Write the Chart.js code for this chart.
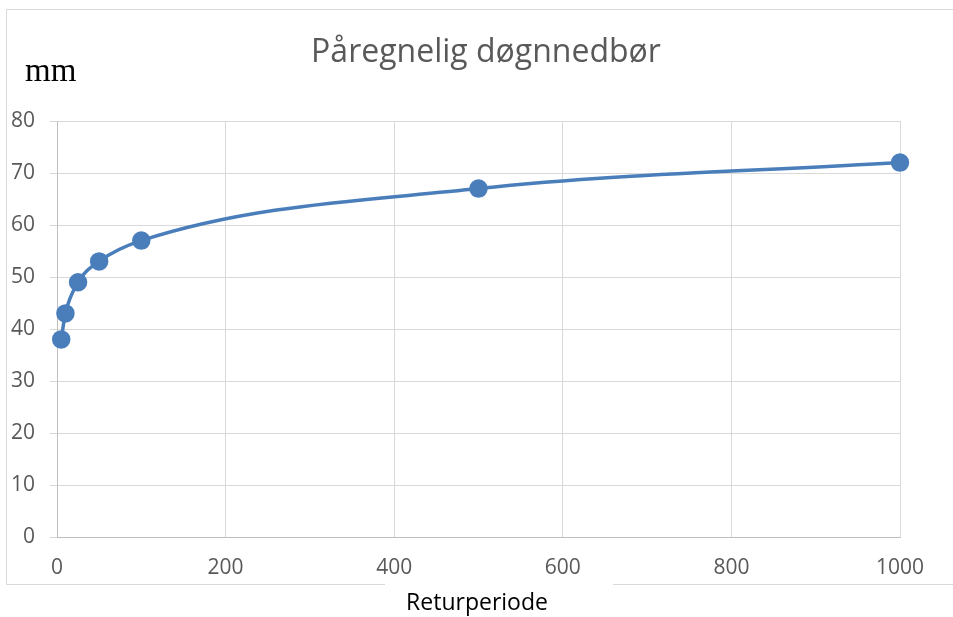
<!DOCTYPE html>
<html>
<head>
<meta charset="utf-8">
<script src="https://cdn.jsdelivr.net/npm/chart.js@4/dist/chart.umd.min.js"></script>
<style>
  html, body { margin: 0; padding: 0; background: #fff; }
  #wrap { width: 953px; height: 617px; position: relative; }
</style>
</head>
<body>
<div id="wrap"><canvas id="chart"></canvas></div>
<script>
  // returperiode (år) og nedbør (mm)
  const returnPeriods = [5, 10, 25, 50, 100, 500, 1000];
  const rainfall = [38, 43, 49, 53, 57, 67, 72];
  const chartTitle = 'Påregnelig døgnnedbør';
  const yLabel = 'mm';
  const xLabel = 'Returperiode';

  const lineColor = '#4a7ebb';
  const gridColor = '#d9d9d9';

  // ramme, tittel og aksetekster
  const decorations = {
    id: 'decorations',
    beforeDraw(chart) {
      const c = chart.ctx;
      c.save();
      c.strokeStyle = gridColor;
      c.lineWidth = 1;
      c.beginPath();
      c.moveTo(385, 584.5);
      c.lineTo(6.5, 584.5);
      c.lineTo(6.5, 9.5);
      c.lineTo(953, 9.5);
      c.moveTo(613, 584.5);
      c.lineTo(953, 584.5);
      c.stroke();
      c.restore();
    },
    afterDraw(chart) {
      const c = chart.ctx;
      c.save();
      c.textBaseline = 'middle';
      c.textAlign = 'center';
      c.fillStyle = '#595959';
      c.font = '32px "Open Sans"';
      c.fillText(chartTitle, 486, 53);
      c.fillStyle = '#000';
      c.font = '23px "Open Sans"';
      c.fillText(xLabel, 477, 603);
      c.textAlign = 'left';
      c.font = '33px "Liberation Serif"';
      c.fillText(yLabel, 25, 72);
      c.restore();
    }
  };

  const ctx = document.getElementById('chart').getContext('2d');
  const rainChart = new Chart(ctx, {
    type: 'scatter',
    data: {
      datasets: [{
        label: 'Døgnnedbør',
        data: returnPeriods.map((p, i) => ({ x: p, y: rainfall[i] })),
        showLine: true,
        borderColor: lineColor,
        backgroundColor: lineColor,
        borderWidth: 3.5,
        pointRadius: 7.5,
        pointHoverRadius: 7.5,
        cubicInterpolationMode: 'monotone',
        clip: false
      }]
    },
    options: {
      responsive: true,
      maintainAspectRatio: false,
      animation: false,
      layout: { padding: { left: 0, right: 53, top: 121, bottom: 0 } },
      plugins: {
        legend: { display: false },
        tooltip: { enabled: false }
      },
      scales: {
        x: {
          type: 'linear',
          min: 0,
          max: 1000,
          ticks: {
            stepSize: 200, color: '#595959', font: { family: 'Open Sans', size: 21 }, padding: 18,
            callback: v => String(v)
          },
          grid: { color: gridColor, drawTicks: false },
          border: { color: '#bfbfbf' },
          afterFit(scale) { scale.height = 80; }
        },
        y: {
          min: 0,
          max: 80,
          ticks: { stepSize: 10, color: '#595959', font: { family: 'Open Sans', size: 21 }, padding: 15 },
          grid: { color: gridColor, tickLength: 7 },
          border: { color: '#bfbfbf' },
          afterFit(scale) { scale.width = 57; }
        }
      }
    },
    plugins: [decorations]
  });
</script>
</body>
</html>
